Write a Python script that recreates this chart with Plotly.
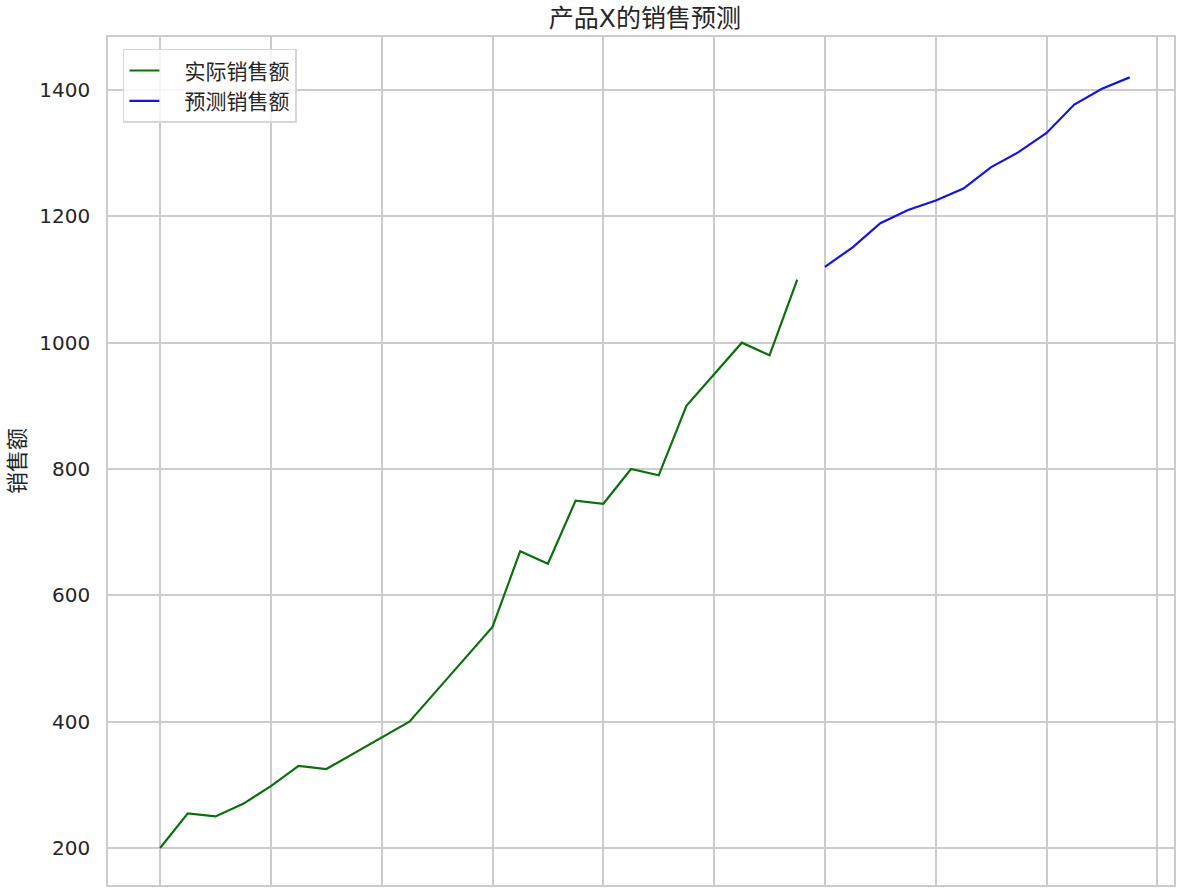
import plotly.graph_objects as go

# 实际销售额 (月序号 0-23)
actual_x = list(range(0, 24))
actual_sales = [200, 255, 250, 270, 298, 330, 325, 350, 375, 400, 450, 500,
                550, 670, 650, 750, 745, 800, 790, 900, 950, 1000, 980, 1100]

# 预测销售额 (月序号 24-35)
forecast_x = list(range(24, 36))
forecast_sales = [1120, 1151, 1189, 1210, 1225, 1244, 1278, 1302, 1332, 1377, 1402, 1420]

y_ticks = [200, 400, 600, 800, 1000, 1200, 1400]

font_family = "DejaVu Sans, Noto Sans CJK SC, sans-serif"
pad = "\u00a0\u00a0\u00a0"

fig = go.Figure()
fig.add_trace(go.Scatter(x=actual_x, y=actual_sales, mode="lines", name=pad + "实际销售额",
                         line=dict(color="#0b700b", width=2.2)))
fig.add_trace(go.Scatter(x=forecast_x, y=forecast_sales, mode="lines", name=pad + "预测销售额",
                         line=dict(color="#1414e0", width=2.2)))

fig.update_layout(
    width=1192, height=896,
    margin=dict(l=108, r=18, t=37, b=11),
    paper_bgcolor="white", plot_bgcolor="white",
    font=dict(family=font_family, size=20, color="#262626"),
    title=dict(text="产品X的销售预测", x=0.541, xanchor="center", y=0.980, yanchor="middle",
               font=dict(size=25, color="#262626")),
    showlegend=True,
    legend=dict(x=0.014, y=0.986, xanchor="left", yanchor="top",
                bgcolor="rgba(255,255,255,0.8)", bordercolor="#d6d6d6", borderwidth=1.5,
                font=dict(size=21), tracegroupgap=0),
)
fig.update_xaxes(range=[-1.88, 36.6], tick0=0, dtick=4, showticklabels=False,
                 showgrid=True, gridcolor="#cccccc", gridwidth=1.5, zeroline=False,
                 showline=True, linecolor="#cccccc", linewidth=1.5, mirror=True, ticks="")
fig.update_yaxes(range=[141.5, 1483.9], tickvals=y_ticks, showgrid=True, gridcolor="#cccccc",
                 gridwidth=1.5, zeroline=False, showline=True, linecolor="#cccccc",
                 linewidth=1.5, mirror=True, ticks="", ticklabelstandoff=12,
                 title=dict(text="销售额", standoff=8, font=dict(size=22)))

# page body without default margin so the figure sits at the window corner
fig.write_html("out.html", config={"displayModeBar": False},
               post_script="document.body.style.margin='0';")
